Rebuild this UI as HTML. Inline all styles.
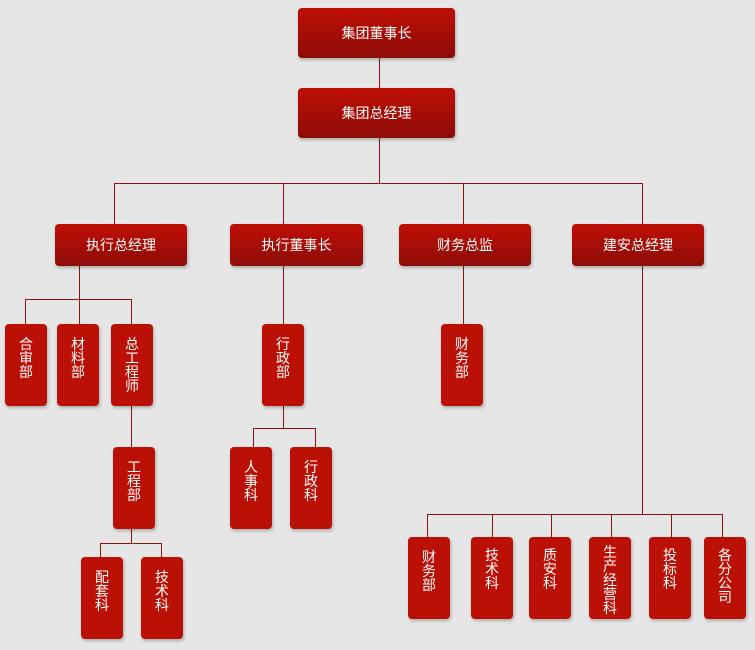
<!DOCTYPE html>
<html><head><meta charset="utf-8"><style>
html,body{margin:0;padding:0}
body{width:755px;height:650px;background:#e6e6e6;position:relative;overflow:hidden;font-family:"Liberation Sans","Noto Sans CJK SC",sans-serif}
.h{position:absolute;border-radius:4px;background:linear-gradient(#bf0e05,#8d0d08);color:#fff;font-size:14px;display:flex;align-items:center;justify-content:center;box-shadow:1px 2px 3px rgba(0,0,0,.25)}
.v{position:absolute;width:42px;height:82px;border-radius:4px;background:#bb1005;color:#fff;font-size:14px;line-height:14px;text-align:center;box-sizing:border-box;padding-top:13px;box-shadow:1px 2px 3px rgba(0,0,0,.25)}
.l{position:absolute;background:#8b1410}
</style></head><body>
<!-- lines -->
<div class="l" style="left:379px;top:58px;width:1px;height:30px"></div>
<div class="l" style="left:379px;top:138px;width:1px;height:45px"></div>
<div class="l" style="left:114px;top:183px;width:529px;height:1px"></div>
<div class="l" style="left:114px;top:183px;width:1px;height:41px"></div>
<div class="l" style="left:283px;top:183px;width:1px;height:41px"></div>
<div class="l" style="left:463px;top:183px;width:1px;height:41px"></div>
<div class="l" style="left:642px;top:183px;width:1px;height:41px"></div>

<div class="l" style="left:79px;top:266px;width:1px;height:58px"></div>
<div class="l" style="left:25px;top:299px;width:107px;height:1px"></div>
<div class="l" style="left:25px;top:299px;width:1px;height:25px"></div>
<div class="l" style="left:131px;top:299px;width:1px;height:25px"></div>
<div class="l" style="left:131px;top:406px;width:1px;height:41px"></div>
<div class="l" style="left:131px;top:529px;width:1px;height:14px"></div>
<div class="l" style="left:100px;top:543px;width:62px;height:1px"></div>
<div class="l" style="left:100px;top:543px;width:1px;height:14px"></div>
<div class="l" style="left:161px;top:543px;width:1px;height:14px"></div>

<div class="l" style="left:283px;top:266px;width:1px;height:58px"></div>
<div class="l" style="left:283px;top:406px;width:1px;height:22px"></div>
<div class="l" style="left:253px;top:428px;width:63px;height:1px"></div>
<div class="l" style="left:253px;top:428px;width:1px;height:19px"></div>
<div class="l" style="left:315px;top:428px;width:1px;height:19px"></div>

<div class="l" style="left:463px;top:266px;width:1px;height:58px"></div>

<div class="l" style="left:642px;top:266px;width:1px;height:248px"></div>
<div class="l" style="left:427px;top:514px;width:296px;height:1px"></div>
<div class="l" style="left:427px;top:514px;width:1px;height:23px"></div>
<div class="l" style="left:492px;top:514px;width:1px;height:23px"></div>
<div class="l" style="left:551px;top:514px;width:1px;height:23px"></div>
<div class="l" style="left:611px;top:514px;width:1px;height:23px"></div>
<div class="l" style="left:671px;top:514px;width:1px;height:23px"></div>
<div class="l" style="left:722px;top:514px;width:1px;height:23px"></div>

<!-- horizontal boxes -->
<div class="h" style="left:298px;top:8px;width:157px;height:50px">集团董事长</div>
<div class="h" style="left:298px;top:88px;width:157px;height:50px">集团总经理</div>
<div class="h" style="left:55px;top:224px;width:132px;height:42px">执行总经理</div>
<div class="h" style="left:230px;top:224px;width:133px;height:42px">执行董事长</div>
<div class="h" style="left:399px;top:224px;width:132px;height:42px">财务总监</div>
<div class="h" style="left:572px;top:224px;width:132px;height:42px">建安总经理</div>

<!-- vertical boxes -->
<div class="v" style="left:5px;top:324px">合<br>审<br>部</div>
<div class="v" style="left:57px;top:324px">材<br>料<br>部</div>
<div class="v" style="left:111px;top:324px">总<br>工<br>程<br>师</div>
<div class="v" style="left:113px;top:447px">工<br>程<br>部</div>
<div class="v" style="left:81px;top:557px">配<br>套<br>科</div>
<div class="v" style="left:141px;top:557px">技<br>术<br>科</div>
<div class="v" style="left:262px;top:324px">行<br>政<br>部</div>
<div class="v" style="left:230px;top:447px">人<br>事<br>科</div>
<div class="v" style="left:290px;top:447px">行<br>政<br>科</div>
<div class="v" style="left:441px;top:324px">财<br>务<br>部</div>
<div class="v" style="left:408px;top:537px">财<br>务<br>部</div>
<div class="v" style="left:471px;top:537px;padding-top:11px">技<br>术<br>科</div>
<div class="v" style="left:529px;top:537px;padding-top:11px">质<br>安<br>科</div>
<div class="v" style="left:589px;top:537px;padding-top:8px">生<br>产<br>经<br>营<br>科</div>
<div class="v" style="left:649px;top:537px;padding-top:11px">投<br>标<br>科</div>
<div class="v" style="left:704px;top:537px;padding-top:11px">各<br>分<br>公<br>司</div>
</body></html>
